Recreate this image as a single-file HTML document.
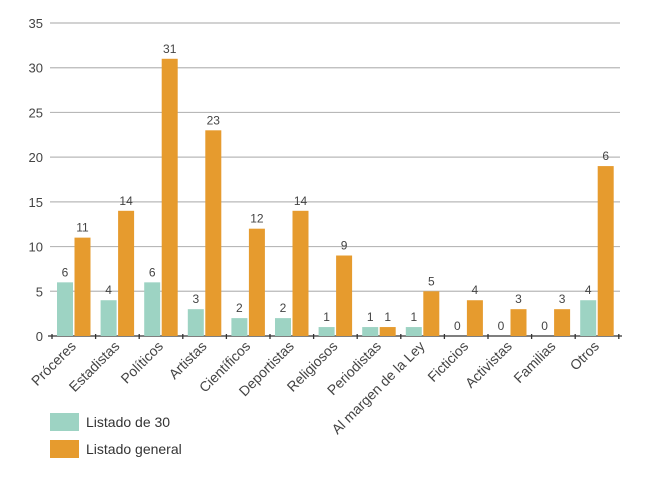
<!DOCTYPE html>
<html><head><meta charset="utf-8"><style>
body{margin:0;background:#fff;}
svg{display:block;font-family:"Liberation Sans","DejaVu Sans",sans-serif;}
</style></head><body>
<svg id="chart" width="650" height="478" viewBox="0 0 650 478"></svg>
<script>
const categories=["Próceres","Estadistas","Políticos","Artistas","Científicos","Deportistas","Religiosos","Periodistas","Al margen de la Ley","Ficticios","Activistas","Familias","Otros"];
const seriesListado30=[6,4,6,3,2,2,1,1,1,0,0,0,4];
const seriesGeneral=[11,14,31,23,12,14,9,1,5,4,3,3,19];
const labelsListado30=["6","4","6","3","2","2","1","1","1","0","0","0","4"];
const labelsGeneral=["11","14","31","23","12","14","9","1","5","4","3","3","6"];
const yTicks=[0,5,10,15,20,25,30,35];

const NS="http://www.w3.org/2000/svg";
const svg=document.getElementById('chart');
const x0=52,step=43.6,y0=336,yMax=35,yTop=23;
const yS=v=>y0-(v/yMax)*(y0-yTop);
const xS=i=>x0+i*step;
function mk(tag,attrs,parent){const e=document.createElementNS(NS,tag);for(const k in attrs)e.setAttribute(k,attrs[k]);(parent||svg).appendChild(e);return e;}
const GREEN="#9dd3c3",ORANGE="#e69b2e",TXT="#444";

yTicks.forEach(t=>{
  if(t>0){const g=mk('line',{x1:50,x2:620,y1:yS(t),y2:yS(t),stroke:'#b8b8b8','stroke-width':1.2});
  
  }
  const l=mk('text',{x:43,y:yS(t)+5,'text-anchor':'end','font-size':13,fill:TXT});
  l.textContent=t;
  
  
});
const ax=mk('line',{x1:48,x2:622,y1:y0,y2:y0,stroke:'#333','stroke-width':1.3});


for(let i=0;i<=categories.length;i++){
  const tk=mk('line',{x1:xS(i),x2:xS(i),y1:y0-2,y2:y0+3,stroke:'#333','stroke-width':1.3});
  
  
}
const bw=16;
categories.forEach((c,i)=>{
  const bx=xS(i)+5;
  const gv=seriesListado30[i],ov=seriesGeneral[i];
  if(gv>0){const r=mk('rect',{x:bx,y:yS(gv),width:bw,height:y0-yS(gv),fill:GREEN});
  
  }
  const gl=mk('text',{x:bx+bw/2,y:yS(gv)-6,'text-anchor':'middle','font-size':12,fill:TXT});
  gl.textContent=labelsListado30[i];
  
  
  const ox=bx+bw+1.5;
  const r2=mk('rect',{x:ox,y:yS(ov),width:bw,height:y0-yS(ov),fill:ORANGE});
  
  
  const ol=mk('text',{x:ox+bw/2,y:yS(ov)-6,'text-anchor':'middle','font-size':12,fill:TXT});
  ol.textContent=labelsGeneral[i];
  
  
  const cx=xS(i)+step/2+3,cy=y0+11;
  const cl=mk('text',{x:cx,y:cy,'text-anchor':'end','font-size':14,fill:TXT,transform:`rotate(-45 ${cx} ${cy})`});
  cl.textContent=c;
  
  
});
[[GREEN,"Listado de 30",413],[ORANGE,"Listado general",440]].forEach(([col,t,y],k)=>{
  const r=mk('rect',{x:50,y:y,width:29,height:18,fill:col});
  
  
  const tx=mk('text',{x:86,y:y+14,'font-size':14,fill:'#333'});
  tx.textContent=t;
  
  
});
</script>
</body></html>
